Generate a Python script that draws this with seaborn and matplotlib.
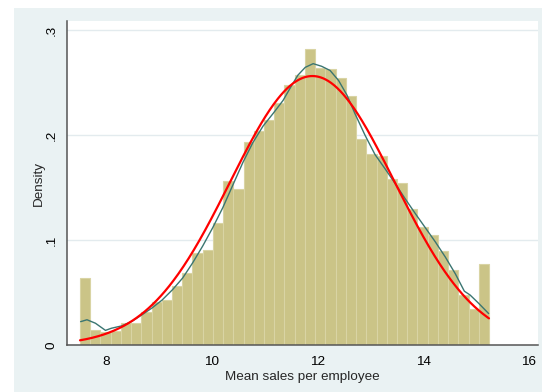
import numpy as np
import pandas as pd
import matplotlib
matplotlib.use("Agg")
import matplotlib.pyplot as plt
from matplotlib.patches import Rectangle
import seaborn as sns

# Histogram: 40 equal-width bins starting at the sample minimum
bin_start = 7.508
bin_width = 0.19345
bar_density = [
    0.0644, 0.0149, 0.0124, 0.0137, 0.0216, 0.0216, 0.0314, 0.0413, 0.0435, 0.0562,
    0.0692, 0.0883, 0.0905, 0.1162, 0.1559, 0.1489, 0.1930, 0.2035, 0.2143, 0.2302,
    0.2473, 0.2571, 0.2816, 0.2635, 0.2625, 0.2540, 0.2368, 0.1962, 0.1825, 0.1800,
    0.1578, 0.1540, 0.1295, 0.1121, 0.1054, 0.0895, 0.0714, 0.0476, 0.0343, 0.0778,
]

# Kernel density estimate of the same variable
kde_x = [7.52, 7.64, 7.80, 7.99, 8.10, 8.30, 8.49, 8.68, 8.87, 9.06, 9.26, 9.45,
         9.64, 9.83, 10.02, 10.21, 10.40, 10.59, 10.78, 10.97, 11.16, 11.35, 11.51,
         11.63, 11.77, 11.92, 12.08, 12.24, 12.40, 12.56, 12.71, 12.90, 13.09, 13.28,
         13.47, 13.66, 13.85, 14.04, 14.23, 14.42, 14.61, 14.78, 14.89, 15.05, 15.24]
kde_y = [0.0225, 0.0243, 0.0210, 0.0142, 0.0162, 0.0185, 0.0228, 0.0290, 0.0355,
         0.0430, 0.0530, 0.0640, 0.0785, 0.0945, 0.1120, 0.1310, 0.1525, 0.1740,
         0.1930, 0.2085, 0.2205, 0.2330, 0.2470, 0.2570, 0.2645, 0.2680, 0.2655,
         0.2615, 0.2520, 0.2380, 0.2205, 0.2000, 0.1815, 0.1680, 0.1540, 0.1395,
         0.1255, 0.1120, 0.0985, 0.0840, 0.0680, 0.0515, 0.0478, 0.0400, 0.0302]

# Normal density with the sample mean and standard deviation
norm_mean = 11.905
norm_sd = 1.557

x_ticks = [8, 10, 12, 14, 16]
x_tick_labels = ["8", "10", "12", "14", "16"]
y_ticks = [0, 0.1, 0.2, 0.3]
y_tick_labels = ["0", ".1", ".2", ".3"]
x_label = "Mean sales per employee"
y_label = "Density"

sns.set_style("white")
plt.rcParams["font.family"] = ["Liberation Sans", "DejaVu Sans"]
plt.rcParams["font.size"] = 9.7

n_bins = len(bar_density)
bin_end = bin_start + bin_width * n_bins
centers = bin_start + bin_width * (np.arange(n_bins) + 0.5)
hist_df = pd.DataFrame({"x": centers, "density": bar_density})

grid = np.linspace(bin_start, bin_end, 400)
norm_df = pd.DataFrame({
    "x": grid,
    "y": np.exp(-0.5 * ((grid - norm_mean) / norm_sd) ** 2) / (norm_sd * np.sqrt(2 * np.pi)),
})
kde_df = pd.DataFrame({"x": kde_x, "y": kde_y})

fig = plt.figure(figsize=(5.42, 3.92), dpi=100)
fig.patch.set_facecolor("white")
# graph region background (light bluish gray)
fig.patches.append(Rectangle((14 / 542, 0), 1, 1 - 8 / 392, transform=fig.transFigure,
                             facecolor="#EAF2F3", edgecolor="none", zorder=-10))

ax = fig.add_axes([67 / 542, 1 - 345.3 / 392, (537.7 - 67) / 542, (345.3 - 21) / 392])
ax.set_facecolor("white")

for yv in y_ticks[1:]:
    ax.axhline(yv, color="#E3EBEE", lw=1.0, zorder=0)

sns.histplot(data=hist_df, x="x", weights="density", binwidth=bin_width,
             binrange=(bin_start, bin_end), stat="count",
             color="#CBC487", edgecolor="#D9D4A4", linewidth=0.8, alpha=1.0, ax=ax, zorder=2)
sns.lineplot(data=kde_df, x="x", y="y", color="#3A7571", lw=1.0, ax=ax, zorder=3)
sns.lineplot(data=norm_df, x="x", y="y", color="#FF0000", lw=1.6, ax=ax, zorder=4)

ax.set_xlim(7.262, 16.168)
ax.set_ylim(0, 0.3086)
ax.set_xticks(x_ticks)
ax.set_xticklabels(x_tick_labels)
ax.set_yticks(y_ticks)
ax.set_yticklabels(y_tick_labels, rotation=90, va="center")

for side in ["top", "right"]:
    ax.spines[side].set_visible(False)
for side in ["left", "bottom"]:
    ax.spines[side].set_color("#555555")
    ax.spines[side].set_linewidth(1.1)
ax.tick_params(axis="both", which="major", direction="out", length=4.5, width=0.9,
               color="#444444", labelcolor="black", labelsize=9.7)
ax.tick_params(axis="y", pad=2)
ax.tick_params(axis="x", pad=3.5)

ax.set_xlabel(x_label, fontsize=9.7, labelpad=2)
ax.set_ylabel(y_label, fontsize=9.7, labelpad=0.5)

fig.savefig("out.png", dpi=100, facecolor=fig.get_facecolor())
